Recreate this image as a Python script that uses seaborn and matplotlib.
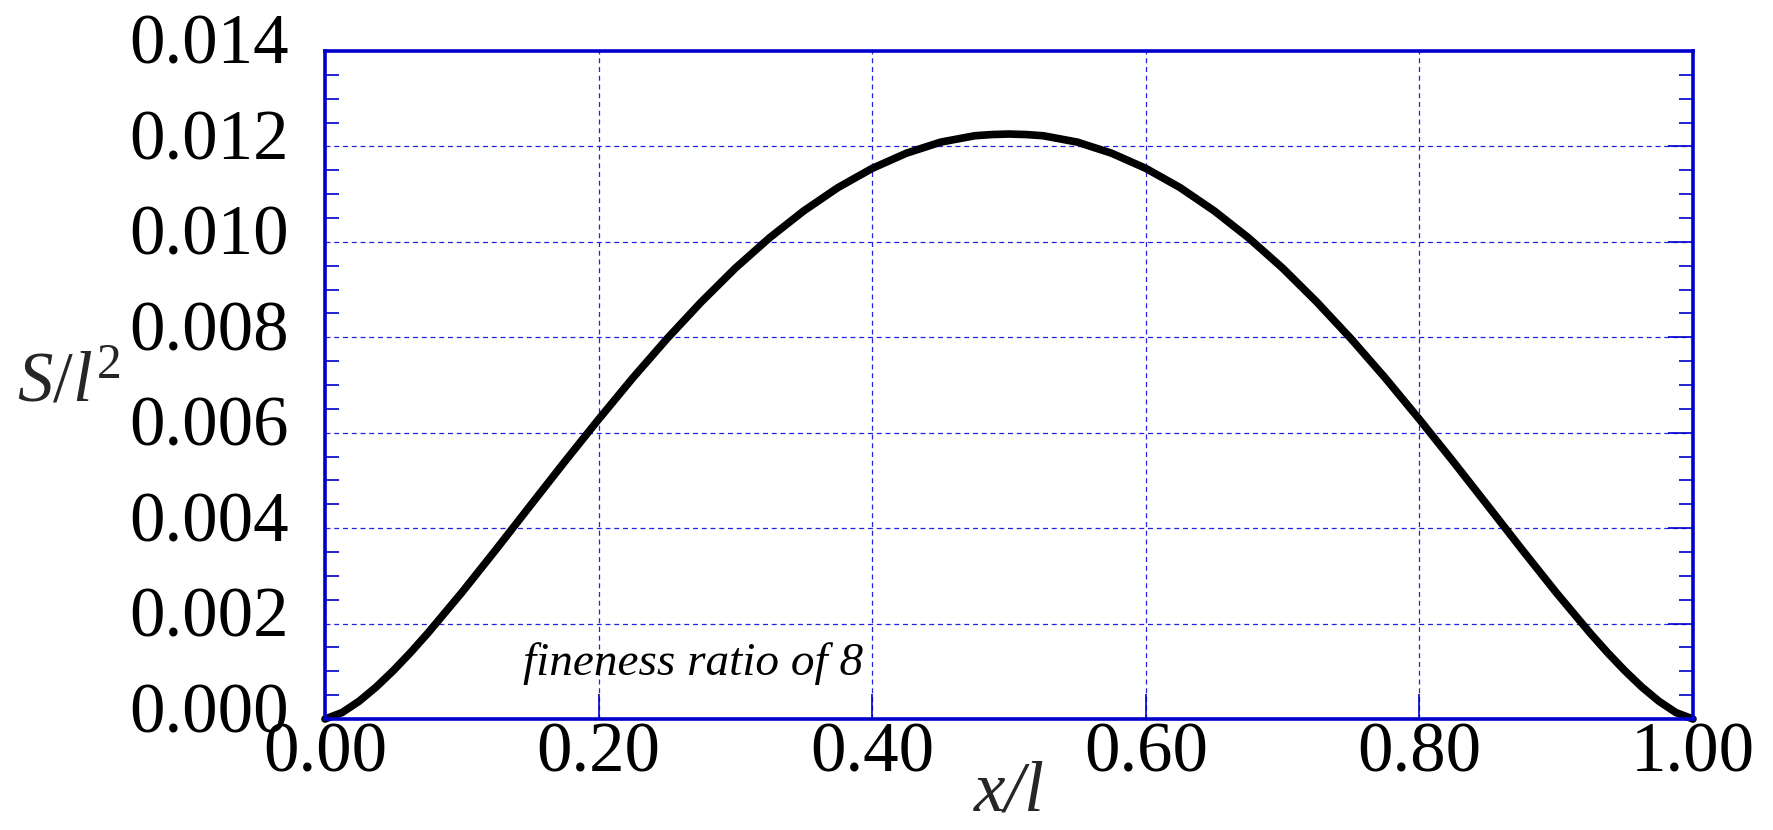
import numpy as np
import pandas as pd
import matplotlib
matplotlib.use("Agg")
import matplotlib.pyplot as plt
import matplotlib.transforms as mtransforms
from matplotlib.ticker import MultipleLocator, FormatStrFormatter
import seaborn as sns

# Data (x/l vs S/l^2)
x_over_l = [0.0000, 0.0125, 0.0250, 0.0375, 0.0500, 0.0625, 0.0750, 0.1000, 0.1250,
            0.1500, 0.1750, 0.2000, 0.2250, 0.2500, 0.2750, 0.3000, 0.3250, 0.3500,
            0.3750, 0.4000, 0.4250, 0.4375, 0.4500, 0.4625, 0.4750, 0.4875, 0.5000,
            0.5125, 0.5250, 0.5375, 0.5500, 0.5625, 0.5750, 0.6000, 0.6250, 0.6500,
            0.6750, 0.7000, 0.7250, 0.7500, 0.7750, 0.8000, 0.8250, 0.8500, 0.8750,
            0.9000, 0.9250, 0.9375, 0.9500, 0.9625, 0.9750, 0.9875, 1.0000]
s_over_l2 = [0.000000, 0.000135, 0.000374, 0.000673, 0.001016, 0.001392, 0.001794,
             0.002650, 0.003551, 0.004470, 0.005385, 0.006280, 0.007148, 0.007970,
             0.008739, 0.009450, 0.010086, 0.010650, 0.011138, 0.011540, 0.011858,
             0.011974, 0.012090, 0.012157, 0.012224, 0.012249, 0.012260,
             0.012249, 0.012224, 0.012157, 0.012090, 0.011974, 0.011858, 0.011540,
             0.011138, 0.010650, 0.010086, 0.009450, 0.008739, 0.007970, 0.007148,
             0.006280, 0.005385, 0.004470, 0.003551, 0.002650, 0.001794, 0.001392,
             0.001016, 0.000673, 0.000374, 0.000135, 0.000000]
annotation = "fineness ratio of 8"

df = pd.DataFrame({"x": x_over_l, "S": s_over_l2})

sns.set_theme(style="white")
plt.rcParams["font.family"] = ["Liberation Serif", "DejaVu Serif"]
plt.rcParams["mathtext.fontset"] = "custom"
plt.rcParams["mathtext.it"] = "Liberation Serif:italic"
plt.rcParams["mathtext.rm"] = "Liberation Serif"

blue = "#0000cc"
fig = plt.figure(figsize=(17.73, 8.30), dpi=100)
ax = fig.add_axes([325 / 1773, 1 - 719 / 830, (1693 - 325) / 1773, (719 - 51) / 830])

sns.lineplot(data=df, x="x", y="S", ax=ax, color="black", lw=5.5, clip_on=False,
             solid_joinstyle="round", solid_capstyle="round")

ax.set_xlim(0, 1)
ax.set_ylim(0, 0.014)
ax.xaxis.set_major_locator(MultipleLocator(0.2))
ax.xaxis.set_major_formatter(FormatStrFormatter("%.2f"))
ax.yaxis.set_major_locator(MultipleLocator(0.002))
ax.yaxis.set_minor_locator(MultipleLocator(0.0005))
ax.yaxis.set_major_formatter(FormatStrFormatter("%.3f"))

for sp in ax.spines.values():
    sp.set_color(blue)
    sp.set_linewidth(2.6)

ax.grid(True, which="major", color="#2222dd", linestyle=(0, (4, 3)), linewidth=0.9)
ax.tick_params(axis="both", which="major", direction="in", length=18, width=1.2,
               color=blue, labelsize=51, labelcolor="black")
ax.tick_params(axis="y", which="major", right=True, pad=26)
ax.tick_params(axis="x", which="major", top=False, bottom=True, pad=2)
ax.tick_params(axis="y", which="minor", direction="in", length=10, width=1.2,
               color=blue, left=True, right=True)

ax.set_xlabel("x/l", fontsize=51, fontstyle="italic", va="baseline")
ax.xaxis.set_label_coords(0.5, -0.137)
ax.set_ylabel(r"$\mathit{S/l}^{\mathrm{2}}$", fontsize=51, rotation=0,
              ha="left", va="baseline")
ax.yaxis.set_label_coords(-0.2251, 0.4746)

offset = mtransforms.ScaledTranslation(0, 12 / 100, fig.dpi_scale_trans)
for lab in ax.get_yticklabels():
    lab.set_transform(lab.get_transform() + offset)

ax.text(0.145, 0.00092, annotation, fontsize=34, style="italic", color="black",
        ha="left", va="baseline")

ax.set_facecolor("white")
fig.savefig("out.png", dpi=100, facecolor="white")
